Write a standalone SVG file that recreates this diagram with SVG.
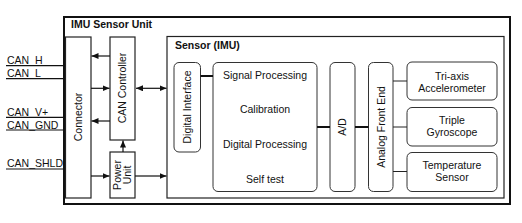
<svg xmlns="http://www.w3.org/2000/svg" width="522" height="223" viewBox="0 0 522 223">
<style>
text{font-family:"Liberation Sans",Arial,sans-serif;font-size:10.5px;fill:#111}
.b{font-weight:bold}
.box{fill:#fff;stroke:#222;stroke-width:1.2}
.in{fill:#fff;stroke:#333;stroke-width:1}
.ln{stroke:#111;stroke-width:1.2;fill:none}
.tk{stroke:#111;stroke-width:2.2;fill:none}
.th{stroke:#222;stroke-width:1;fill:none}
</style>
<defs>
<marker id="ah" markerUnits="userSpaceOnUse" markerWidth="8" markerHeight="8" refX="7" refY="3" orient="auto-start-reverse"><path d="M0,0 L7,3 L0,6 z" fill="#111"/></marker>
</defs>
<g id="imu-unit">
<rect x="64" y="17" width="446" height="187" fill="#fff" stroke="#111" stroke-width="2"/>
<text class="b" x="71" y="28">IMU Sensor Unit</text>
</g>
<g id="connector"><rect class="box" x="65.5" y="37" width="25.5" height="161"/><text transform="translate(82,117) rotate(-90)" text-anchor="middle">Connector</text></g>
<g id="can-controller"><rect class="box" x="110" y="37" width="25" height="103"/><text transform="translate(126,88) rotate(-90)" text-anchor="middle">CAN Controller</text></g>
<g id="power-unit"><rect class="box" x="110" y="152" width="25" height="46"/><text transform="translate(120.5,175) rotate(-90)" text-anchor="middle">Power</text><text transform="translate(131,175) rotate(-90)" text-anchor="middle">Unit</text></g>
<g id="sensor-imu"><rect class="box" x="167" y="36.5" width="337" height="161.5"/><text class="b" x="175" y="48.5">Sensor (IMU)</text></g>
<g id="digital-interface"><rect class="in" x="174" y="62.5" width="26.5" height="89.5" rx="5"/><text transform="translate(191,107) rotate(-90)" text-anchor="middle">Digital Interface</text></g>
<g id="processing"><rect class="in" x="213" y="62.5" width="104" height="129" rx="5"/>
<text x="265" y="79" text-anchor="middle">Signal Processing</text>
<text x="265" y="113" text-anchor="middle">Calibration</text>
<text x="265" y="148" text-anchor="middle">Digital Processing</text>
<text x="265" y="183" text-anchor="middle">Self test</text></g>
<g id="ad"><rect class="in" x="330" y="62.5" width="25" height="129" rx="5"/><text transform="translate(346,127) rotate(-90)" text-anchor="middle">A/D</text></g>
<g id="afe"><rect class="in" x="368.5" y="62.5" width="24.5" height="129" rx="5"/><text transform="translate(384.5,127) rotate(-90)" text-anchor="middle">Analog Front End</text></g>
<g id="accelerometer"><rect class="in" x="407" y="62" width="90" height="38" rx="5"/><text x="452" y="79.5" text-anchor="middle">Tri-axis</text><text x="452" y="91.5" text-anchor="middle">Accelerometer</text></g>
<g id="gyroscope"><rect class="in" x="407" y="107.5" width="90" height="38.5" rx="5"/><text x="452" y="123.5" text-anchor="middle">Triple</text><text x="452" y="135.5" text-anchor="middle">Gyroscope</text></g>
<g id="temperature"><rect class="in" x="407" y="152.5" width="90" height="39" rx="5"/><text x="452" y="168.5" text-anchor="middle">Temperature</text><text x="452" y="180.5" text-anchor="middle">Sensor</text></g>
<g id="labels">
<text x="7" y="64">CAN_H</text>
<text x="7" y="77">CAN_L</text>
<text x="7" y="115.5">CAN_V+</text>
<text x="7" y="128.5">CAN_GND</text>
<text x="7" y="167">CAN_SHLD</text>
</g>
<g id="connectors">
<path class="ln" d="M6,65.7H64 M6,78.7H64 M6,117.3H64 M6,130H64 M6,169H64"/>
<path class="ln" d="M110,56H91.5" marker-end="url(#ah)"/>
<path class="ln" d="M91,88.3H109.5" marker-end="url(#ah)"/>
<path class="ln" d="M136,88.3H166.5" marker-start="url(#ah)" marker-end="url(#ah)"/>
<path class="ln" d="M110,121H91.5" marker-end="url(#ah)"/>
<path class="ln" d="M123,152V140.5" marker-end="url(#ah)"/>
<path class="ln" d="M91,176H109.5" marker-end="url(#ah)"/>
<path class="ln" d="M135,176H166.5" marker-end="url(#ah)"/>
<path class="tk" d="M200.5,76H213 M317,127H330 M355,127H368.5"/>
<path class="th" d="M393,81H407 M393,127H407 M393,171.5H407"/>
</g>
</svg>
